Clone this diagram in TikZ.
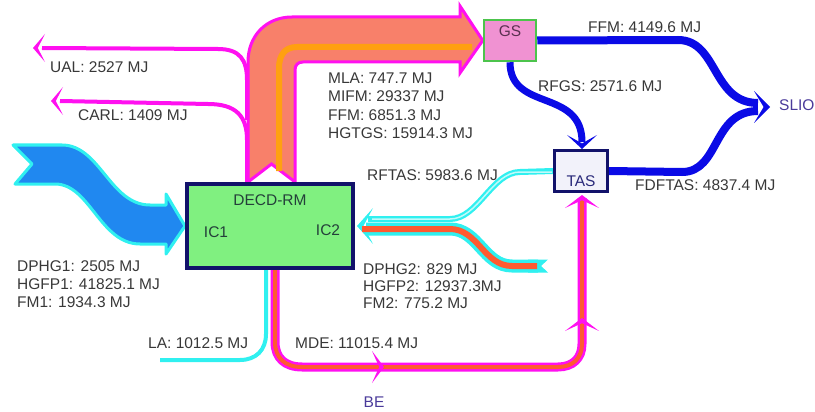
\documentclass[tikz,border=0pt]{standalone}
\usepackage{fontspec}
\setmainfont{Liberation Sans}
\usetikzlibrary{calc}
\pgfdeclarelayer{bg}
\pgfsetlayers{bg,main}
\definecolor{mag}{HTML}{FF10F0}
\definecolor{salmon}{HTML}{F8806A}
\definecolor{orng}{HTML}{FFA010}
\definecolor{cyn}{HTML}{30F0F0}
\definecolor{bluefill}{HTML}{2088F0}
\definecolor{flowblue}{HTML}{0A0AE6}
\definecolor{redor}{HTML}{FF5A30}
\definecolor{boxgreen}{HTML}{80F080}
\definecolor{navy}{HTML}{12126A}
\definecolor{gspink}{HTML}{F092D2}
\definecolor{gsgreen}{HTML}{4CC44C}
\definecolor{tasfill}{HTML}{F2F2FA}
\definecolor{txt}{HTML}{383838}
\definecolor{lbl}{HTML}{4A3A9A}
\definecolor{decdtxt}{HTML}{24403A}
\definecolor{gstxt}{HTML}{5A3050}
\definecolor{tastxt}{HTML}{2A2A7A}
\newcommand\chevron[6]{\fill[#1,shift={(#2,#3)},rotate=#4] (0,0) -- (-#5,#6) -- (-0.4*#5,0) -- (-#5,-#6) -- cycle;}
\begin{document}
\begin{tikzpicture}[x=1pt,y=-1pt,font=\fontsize{15.5}{18}\selectfont,
  lab/.style={anchor=west,inner sep=0pt,text=txt},
  boxlab/.style={inner sep=0pt}]
\useasboundingbox (0,0) rectangle (815,412);
% boxes
\node[draw=navy,line width=4pt,fill=boxgreen,minimum width=166pt,minimum height=84pt,inner sep=0pt] (decd) at (270,226) {};
\node[boxlab,text=decdtxt] (decdt) at (270,200) {DECD-RM};
\node[boxlab,text=decdtxt] (ic1) at (216,232) {IC1};
\node[boxlab,text=decdtxt] (ic2) at (328,230) {IC2};
\node[draw=gsgreen,line width=2.5pt,fill=gspink,minimum width=52pt,minimum height=41pt,inner sep=0pt] (gs) at (510,40.5) {};
\node[boxlab,text=gstxt] (gst) at (510,31) {GS};
\node[draw=navy,line width=3pt,fill=tasfill,minimum width=53pt,minimum height=41pt,inner sep=0pt] (tas) at (581,171) {};
\node[boxlab,text=tastxt] (tast) at (581,181) {TAS};
\begin{pgfonlayer}{bg}
% big band to GS
\filldraw[fill=salmon,draw=mag,line width=3pt,line join=miter] (248,182) -- (248,62) .. controls (248,36) and (266,17) .. (292,17) -- (460,17) -- (460,6) -- (gs.west) -- (460,73) -- (460,62) -- (303,62) .. controls (298,62) and (295,65) .. (295,70) -- (295,182) -- (271.5,164) -- cycle;
\draw[orng,line width=6pt] (279,171) -- (279,68) .. controls (279,55) and (285,47) .. (297,47) -- (472,47);
% UAL, CARL
\draw[mag,line width=4pt] (247,120) -- (247,80) .. controls (247,60) and (240,49) .. (218,49) -- (42,48);
\chevron{mag}{33}{48}{180}{12}{14}
\draw[mag,line width=4pt] (247,182) -- (247,140) .. controls (247,116) and (236,104) .. (208,104) -- (60,101);
\chevron{mag}{51}{101}{180}{12}{14}
% big blue arrow into IC1
\filldraw[fill=bluefill,draw=cyn,line width=3pt,line join=round] (13,145) -- (62,145) .. controls (100,145) and (110,205) .. (150,205) -- (166,205) -- (166,194) -- (decd.west) -- (166,254) -- (166,244) -- (140,244) .. controls (100,244) and (90,184) .. (55,184) -- (15,184) -- (32,164) -- cycle;
% inflow to IC2
\draw[cyn,line width=6pt] (tas.west) -- (520,172) .. controls (492,172) and (478,219) .. (450,219) -- (368,219);
\draw[white!70!cyn,line width=1.5pt] (552,172) -- (520,172) .. controls (492,172) and (478,219) .. (450,219) -- (372,219);
\draw[cyn,line width=13pt] (538,266) -- (512,266) .. controls (484,266) and (478,229) .. (450,229) -- (366,229);
\fill[cyn] (528,259.5) -- (548,259.5) -- (541,266) -- (548,272.5) -- (528,272.5) -- cycle;
\chevron{cyn}{357}{226}{180}{16}{18}
\draw[redor,line width=6pt] (537,266) -- (512,266) .. controls (484,266) and (478,229) .. (450,229) -- (362,229);
% LA
\draw[cyn,line width=4pt] (266,268) -- (266,334) .. controls (266,350) and (256,360) .. (240,360) -- (160,360);
% MDE
\draw[mag,line width=9pt] (275,268) -- (275,342) .. controls (275,358) and (285,367) .. (302,367) -- (558,367) .. controls (573,367) and (582,358) .. (582,344) -- (582,198);
\draw[redor,line width=4pt] (275,268) -- (275,342) .. controls (275,358) and (285,367) .. (302,367) -- (558,367) .. controls (573,367) and (582,358) .. (582,344) -- (582,198);
\chevron{mag}{384}{367}{0}{12}{16}
\chevron{mag}{582}{318}{90}{13}{17}
\chevron{mag}{582}{195}{90}{13}{17}
% blue flows
\draw[flowblue,line width=8pt] (gs.east) -- (678,40) .. controls (718,40) and (712,103) .. (758,103);
\draw[flowblue,line width=8pt] (tas.east) -- (682,172) .. controls (720,172) and (712,111) .. (758,111);
\chevron{flowblue}{770}{107}{0}{16}{16}
\draw[flowblue,line width=7pt] (gs.south) .. controls (510,112) and (582,88) .. (582,142);
\chevron{flowblue}{582}{149}{-90}{14}{15}
\end{pgfonlayer}
% labels
\node[lab] (ual) at (50,67.5) {UAL: 2527 MJ};
\node[lab] (carl) at (78,115) {CARL: 1409 MJ};
\node[lab] (mla) at (328,78) {MLA: 747.7 MJ};
\node[lab] (mifm) at (328,96.5) {MIFM: 29337 MJ};
\node[lab] (ffma) at (328,115) {FFM: 6851.3 MJ};
\node[lab] (hgtgs) at (328,133.5) {HGTGS: 15914.3 MJ};
\node[lab] (rftas) at (367,175.5) {RFTAS: 5983.6 MJ};
\node[lab] (ffmb) at (588,27.5) {FFM: 4149.6 MJ};
\node[lab] (rfgs) at (538,86) {RFGS: 2571.6 MJ};
\node[lab,text=lbl] (slio) at (779,105.5) {SLIO};
\node[lab] (fdftas) at (635,185) {FDFTAS: 4837.4 MJ};
\node[lab] (dphga) at (17,266) {DPHG1: 2505 MJ};
\node[lab] (hgfpa) at (17,284) {HGFP1: 41825.1 MJ};
\node[lab] (fma) at (17,302.5) {FM1: 1934.3 MJ};
\node[lab] (dphgb) at (363,269) {DPHG2: 829 MJ};
\node[lab] (hgfpb) at (363,286) {HGFP2: 12937.3MJ};
\node[lab] (fmb) at (363,303.5) {FM2: 775.2 MJ};
\node[lab] (la) at (148,343.5) {LA: 1012.5 MJ};
\node[lab] (mde) at (295,343.5) {MDE: 11015.4 MJ};
\node[boxlab,text=lbl] (be) at (374,402) {BE};
\end{tikzpicture}
\end{document}
